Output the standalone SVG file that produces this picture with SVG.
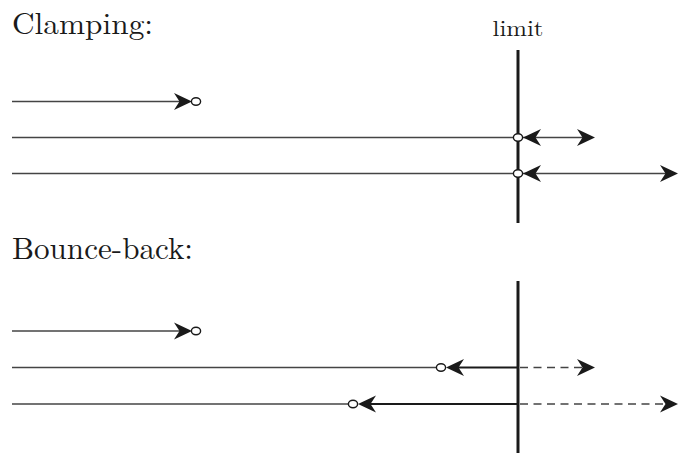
<svg xmlns="http://www.w3.org/2000/svg" width="678" height="453" viewBox="0 0 678 453">
  <style>
    .lbl { font-family: "Latin Modern Roman", "Liberation Serif", serif; fill: #1a1a1a; }
    .ray { stroke: #444; stroke-width: 1.5; fill: none; }
    .ret { stroke: #1a1a1a; stroke-width: 2; fill: none; }
    .dash { stroke: #444; stroke-width: 1.5; fill: none; stroke-dasharray: 8 5.5; }
    .wall { stroke: #1a1a1a; stroke-width: 3; fill: none; }
    .head { fill: #1a1a1a; stroke: none; }
    .dot { fill: #fff; stroke: #1a1a1a; stroke-width: 1.4; }
  </style>
  <defs>
    <!-- stealth-style arrowhead, tip at origin pointing +x -->
    <path id="hr" class="head" d="M0 0 L-18 -8.5 L-12.5 0 L-18 8.5 Z"/>
    <path id="hl" class="head" d="M0 0 L18 -8.5 L12.5 0 L18 8.5 Z"/>
    <ellipse id="pt" class="dot" rx="4.6" ry="3.7"/>
  </defs>

  <!-- section titles -->
  <text class="lbl" x="12" y="34" font-size="30" textLength="141" lengthAdjust="spacingAndGlyphs">Clamping:</text>
  <text class="lbl" x="12" y="259" font-size="31" textLength="181" lengthAdjust="spacingAndGlyphs">Bounce-back:</text>
  <text class="lbl" x="518" y="36" font-size="22" text-anchor="middle" textLength="51" lengthAdjust="spacingAndGlyphs">limit</text>

  <!-- limit walls -->
  <g id="wall-top"><line class="wall" x1="518" y1="50" x2="518" y2="223"/></g>
  <g id="wall-bottom"><line class="wall" x1="518" y1="281" x2="518" y2="453"/></g>

  <g id="connectors">
    <!-- clamping -->
    <line class="ray" x1="12" y1="101.5" x2="186" y2="101.5"/>
    <use href="#hr" x="192" y="101.5"/>

    <line class="ray" x1="12" y1="137.5" x2="518" y2="137.5"/>
    <line class="ray" x1="523" y1="137.5" x2="590" y2="137.5"/>
    <use href="#hl" x="523" y="137.5"/>
    <use href="#hr" x="595" y="137.5"/>

    <line class="ray" x1="12" y1="173.5" x2="518" y2="173.5"/>
    <line class="ray" x1="523" y1="173.5" x2="672" y2="173.5"/>
    <use href="#hl" x="523" y="173.5"/>
    <use href="#hr" x="678" y="173.5"/>

    <!-- bounce-back -->
    <line class="ray" x1="12" y1="331" x2="186" y2="331"/>
    <use href="#hr" x="192" y="331"/>

    <line class="ray" x1="12" y1="367.5" x2="441" y2="367.5"/>
    <line class="ret" x1="452" y1="367.5" x2="518" y2="367.5"/>
    <line class="dash" x1="520" y1="367.5" x2="588" y2="367.5"/>
    <use href="#hl" x="446" y="367.5"/>
    <use href="#hr" x="595" y="367.5"/>

    <line class="ray" x1="12" y1="404" x2="353" y2="404"/>
    <line class="ret" x1="364" y1="404" x2="518" y2="404"/>
    <line class="dash" x1="520" y1="404" x2="671" y2="404"/>
    <use href="#hl" x="358" y="404"/>
    <use href="#hr" x="678" y="404"/>
  </g>

  <!-- end points -->
  <g id="points">
    <use href="#pt" x="196" y="101.5"/>
    <use href="#pt" x="518" y="137.5"/>
    <use href="#pt" x="518" y="173.5"/>
    <use href="#pt" x="196" y="331"/>
    <use href="#pt" x="441" y="367.5"/>
    <use href="#pt" x="353" y="404"/>
  </g>
</svg>
